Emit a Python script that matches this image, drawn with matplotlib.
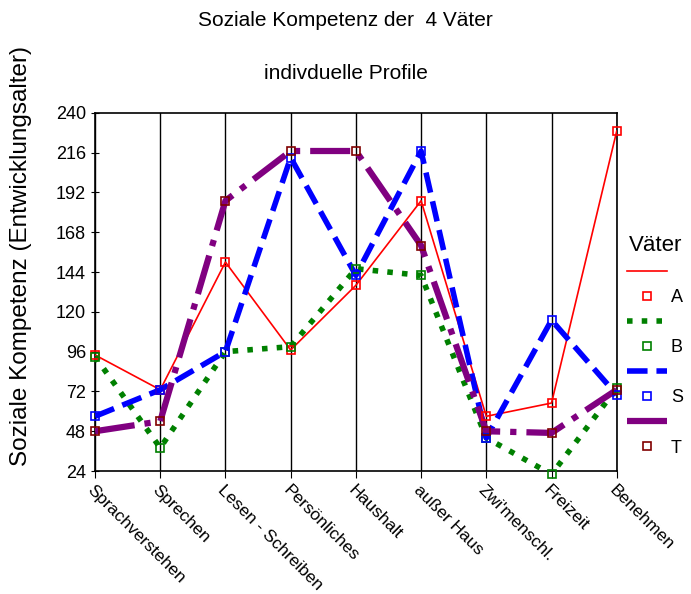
import numpy as np
import matplotlib.pyplot as plt
import matplotlib.transforms as mtransforms

plt.rcParams['font.family'] = ['Liberation Sans', 'DejaVu Sans']

kategorien = ['Sprachverstehen', 'Sprechen', 'Lesen - Schreiben', 'Persönliches',
              'Haushalt', 'außer Haus', 'Zwi\'menschl.', 'Freizeit', 'Benehmen']
namen = ['A', 'B', 'S', 'T']
A = [94, 73, 150, 97, 136, 187, 57, 65, 229]
B = [93, 38, 96, 99, 146, 142, 44, 22, 74]
S = [57, 73, 96, 213, 142, 217, 44, 115, 70]
T = [48, 54, 187, 217, 217, 160, 48, 47, 73]
werte = [A, B, S, T]

linienfarben = ['red', 'green', 'blue', 'purple']
markerfarben = ['red', 'green', 'blue', '#800000']
stile = ['-', ':', '--', '-.']
breiten = [1.2, 4, 4, 4.5]

fig = plt.figure(figsize=(6.91, 5.94), dpi=100)
ax = fig.add_axes([0.1375, 0.207, 0.755, 0.603])
x = np.arange(len(kategorien))

handles = []
labels = []
for i in range(4):
    l, = ax.plot(x, werte[i], linestyle=stile[i], color=linienfarben[i], lw=breiten[i], zorder=3)
    m, = ax.plot(x, werte[i], linestyle='none', marker='s', ms=6, mfc='none',
                 mec=markerfarben[i], mew=1.2, zorder=4, clip_on=False)
    handles += [l, m]
    labels += ['', namen[i]]

for xi in x:
    ax.axvline(xi, color='black', lw=1, zorder=1)

ax.set_xlim(0, 8)
ax.set_ylim(24, 240)
ax.set_yticks(np.arange(24, 241, 24))
ax.set_xticks(x)
ax.set_xticklabels(kategorien, rotation=-45, ha='left', va='top', rotation_mode='anchor', fontsize=12.5)
verschiebung = mtransforms.ScaledTranslation(4 / 100, 0, fig.dpi_scale_trans)
for t in ax.get_xticklabels():
    t.set_transform(t.get_transform() + verschiebung)
ax.tick_params(axis='y', labelsize=13, direction='inout', length=6)
ax.tick_params(axis='x', direction='out', length=5)
for s in ax.spines.values():
    s.set_linewidth(1.2)
ax.set_ylabel('Soziale Kompetenz (Entwicklungsalter)', fontsize=17.5)
ax.yaxis.set_label_coords(-0.12, 0.6)

fig.text(0.5, 0.965, 'Soziale Kompetenz der  4 Väter', ha='center', va='center', fontsize=15)
fig.text(0.5, 0.877, 'indivduelle Profile', ha='center', va='center', fontsize=15)

fig.legend(handles, labels, title='Väter', loc='upper left', bbox_to_anchor=(0.895, 0.62),
           frameon=False, fontsize=13, title_fontsize=16, handlelength=2.2,
           labelspacing=0.45, borderpad=0, handletextpad=0.2)

fig.savefig('out.png', dpi=100)
